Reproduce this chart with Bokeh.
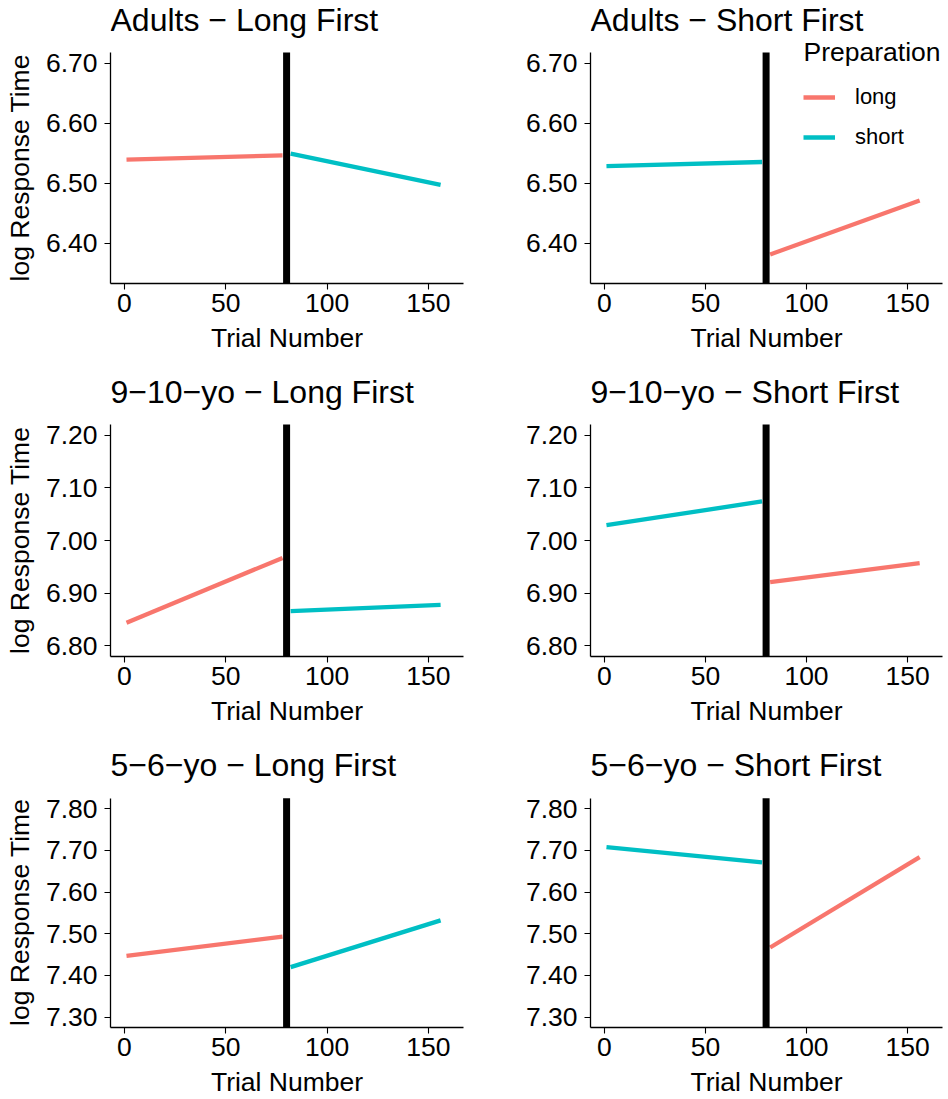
from bokeh.plotting import figure
from bokeh.layouts import column, row
from bokeh.models import Range1d, FixedTicker, PrintfTickFormatter, Legend, LegendItem, Label
from bokeh.embed import file_html
from bokeh.resources import INLINE

# ---- data ----
groups = ["Adults", "9\u221210\u2212yo", "5\u22126\u2212yo"]
orders = ["Long First", "Short First"]
first_block_x = [1, 78]
second_block_x = [82, 156]

adults_long_first_long = [6.539, 6.546]
adults_long_first_short = [6.549, 6.497]
adults_short_first_short = [6.528, 6.535]
adults_short_first_long = [6.381, 6.471]

kids910_long_first_long = [6.844, 6.967]
kids910_long_first_short = [6.866, 6.878]
kids910_short_first_short = [7.029, 7.074]
kids910_short_first_long = [6.921, 6.957]

kids56_long_first_long = [7.447, 7.493]
kids56_long_first_short = [7.420, 7.532]
kids56_short_first_short = [7.708, 7.671]
kids56_short_first_long = [7.467, 7.684]

switch_trial = 80
x_ticks = [0, 50, 100, 150]
y_ticks = [
    [6.40, 6.50, 6.60, 6.70],
    [6.80, 6.90, 7.00, 7.10, 7.20],
    [7.30, 7.40, 7.50, 7.60, 7.70, 7.80],
]
y_limits = [(6.3325, 6.7175), (6.78, 7.22), (7.275, 7.825)]
x_title = "Trial Number"
y_title = "log Response Time"
legend_title = "Preparation"
legend_labels = ["long", "short"]

panel_data = [
    [(adults_long_first_long, adults_long_first_short), (adults_short_first_short, adults_short_first_long)],
    [(kids910_long_first_long, kids910_long_first_short), (kids910_short_first_short, kids910_short_first_long)],
    [(kids56_long_first_long, kids56_long_first_short), (kids56_short_first_short, kids56_short_first_long)],
]

LONG = "#F8766D"
SHORT = "#00BFC4"
FONT = "Liberation Sans"

# layout (pixels)
row_heights = [372, 373, 354]
row_top = [52, 52, 53]       # space above each panel (title area)
row_bottom = [89, 89, 71]
TEXT_CORR = 12               # label baseline correction
YLABEL_PAD = "\u00a0" * 7    # keeps the rotated axis title centred on the panel, not the title area

rows = []
for r in range(3):
    figs = []
    lo, hi = y_limits[r]
    panel_px = row_heights[r] - row_top[r] - row_bottom[r]
    frame_h = row_heights[r] - row_bottom[r]
    hi_ext = hi + row_top[r] * (hi - lo) / panel_px
    for c in range(2):
        left = 110 if c == 0 else 116
        right = 11 if c == 0 else 6
        p = figure(width=474, height=row_heights[r], output_backend="svg", toolbar_location=None,
                   x_range=Range1d(-6.9, 167.3), y_range=Range1d(lo, hi_ext),
                   min_border_left=left, min_border_right=right,
                   min_border_top=0, min_border_bottom=row_bottom[r])
        p.outline_line_color = None
        p.grid.visible = False
        p.background_fill_color = "white"
        p.border_fill_color = "white"
        p.title.visible = False

        # panel title
        p.add_layout(Label(x=0, y=frame_h - row_top[r] + 20.5 + TEXT_CORR, x_units="screen", y_units="screen",
                           text=f"{groups[r]} \u2212 {orders[c]}",
                           text_font=FONT, text_font_size="32px", text_color="black",
                           text_baseline="alphabetic", text_align="left"))

        for ax in (p.xaxis[0], p.yaxis[0]):
            ax.axis_line_width = 1.3
            ax.axis_line_color = "black"
            ax.major_tick_line_width = 1.1
            ax.major_tick_line_color = "black"
            ax.major_tick_out = 6
            ax.major_tick_in = 0
            ax.minor_tick_line_color = None
            ax.major_label_text_font = FONT
            ax.major_label_text_font_size = "26.5px"
            ax.major_label_text_color = "black"
            ax.axis_label_text_font = FONT
            ax.axis_label_text_font_size = "26.5px"
            ax.axis_label_text_font_style = "normal"
            ax.axis_label_text_color = "black"
        p.xaxis.ticker = FixedTicker(ticks=x_ticks)
        p.yaxis.ticker = FixedTicker(ticks=y_ticks[r])
        p.yaxis.formatter = PrintfTickFormatter(format="%.2f")
        p.yaxis.bounds = (lo, hi)
        p.xaxis.axis_label = x_title
        p.xaxis.major_label_standoff = 4
        p.xaxis.axis_label_standoff = 8
        p.yaxis.major_label_standoff = 7
        if c == 0:
            p.yaxis.axis_label = y_title + YLABEL_PAD
            p.yaxis.axis_label_standoff = 8

        first_vals, second_vals = panel_data[r][c]
        first_col = LONG if c == 0 else SHORT
        second_col = SHORT if c == 0 else LONG
        r1 = p.line(first_block_x, first_vals, line_color=first_col, line_width=4.3)
        r2 = p.line(second_block_x, second_vals, line_color=second_col, line_width=4.3)
        # switch marker spanning the panel's y extent
        p.segment(x0=[switch_trial], y0=[lo], x1=[switch_trial], y1=[hi], line_color="black", line_width=7)

        if r == 0 and c == 1:
            legend = Legend(items=[LegendItem(label=legend_labels[0], renderers=[r2]),
                                   LegendItem(label=legend_labels[1], renderers=[r1])],
                            location=(213, 126),
                            label_text_font=FONT, label_text_font_size="22px", label_text_color="black",
                            glyph_width=32, glyph_height=40, label_height=40, label_standoff=20,
                            spacing=0, padding=0, margin=0,
                            background_fill_alpha=0, border_line_alpha=0)
            p.add_layout(legend)
            p.add_layout(Label(x=213, y=frame_h - 63 + TEXT_CORR, x_units="screen", y_units="screen",
                               text=legend_title,
                               text_font=FONT, text_font_size="26.5px", text_color="black",
                               text_baseline="alphabetic", text_align="left"))
        figs.append(p)
    rows.append(row(*figs))

layout = column(*rows)
open("out.html", "w").write(file_html(layout, INLINE))
